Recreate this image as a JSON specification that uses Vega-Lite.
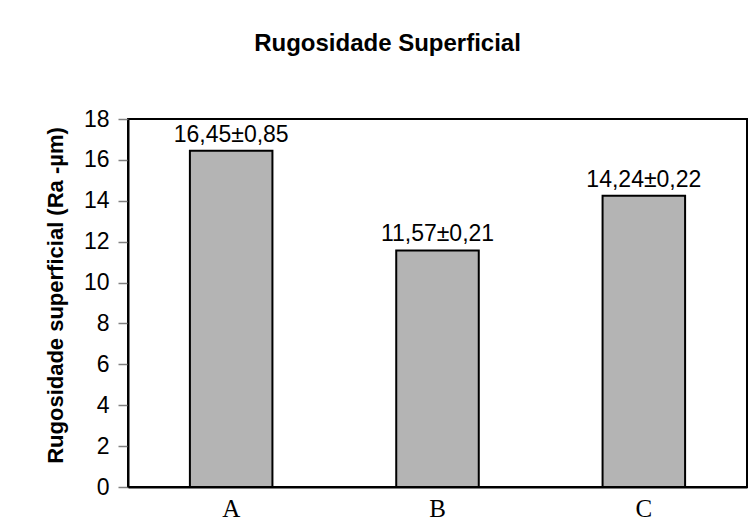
{
  "$schema": "https://vega.github.io/schema/vega-lite/v6.json",
  "width": 619,
  "height": 368,
  "autosize": {"type": "none"},
  "padding": {"left": 128, "top": 119, "right": 5, "bottom": 36},
  "background": "white",
  "title": {
    "text": "Rugosidade Superficial",
    "font": "Liberation Sans",
    "fontSize": 24,
    "fontWeight": "bold",
    "color": "black",
    "anchor": "middle",
    "frame": "group",
    "dx": -50,
    "baseline": "alphabetic",
    "offset": 33
  },
  "data": {
    "values": [
      {"amostra": "A", "ra": 16.45, "rotulo": "16,45±0,85"},
      {"amostra": "B", "ra": 11.57, "rotulo": "11,57±0,21"},
      {"amostra": "C", "ra": 14.24, "rotulo": "14,24±0,22"}
    ]
  },
  "encoding": {
    "x": {
      "field": "amostra",
      "type": "nominal",
      "scale": {"paddingInner": 0.6, "paddingOuter": 0.3},
      "axis": {
        "title": null,
        "labelAngle": 0,
        "labelFont": "Liberation Serif",
        "labelFontSize": 25,
        "labelColor": "black",
        "labelPadding": 9,
        "ticks": false,
        "domain": true,
        "domainColor": "black",
        "domainWidth": 2
      }
    },
    "y": {
      "field": "ra",
      "type": "quantitative",
      "scale": {"domain": [0, 18], "nice": false},
      "axis": {
        "title": "Rugosidade superficial (Ra -µm)",
        "titleFont": "Liberation Sans",
        "titleFontSize": 22,
        "titleFontWeight": "bold",
        "titleColor": "black",
        "titleX": -61,
        "titleY": 176,
        "titleAngle": 270,
        "titleBaseline": "bottom",
        "titleAlign": "center",
        "values": [0, 2, 4, 6, 8, 10, 12, 14, 16, 18],
        "labelFont": "Liberation Sans",
        "labelFontSize": 23,
        "labelColor": "black",
        "labelPadding": 9,
        "tickSize": 10,
        "tickColor": "#808080",
        "tickWidth": 1.5,
        "grid": false,
        "domain": true,
        "domainColor": "black",
        "domainWidth": 2
      }
    }
  },
  "layer": [
    {
      "mark": {"type": "bar", "fill": "#b4b4b4", "stroke": "black", "strokeWidth": 2}
    },
    {
      "mark": {
        "type": "text",
        "baseline": "alphabetic",
        "dy": -9,
        "font": "Liberation Sans",
        "fontSize": 23,
        "color": "black"
      },
      "encoding": {"text": {"field": "rotulo"}}
    }
  ],
  "config": {
    "view": {"stroke": "black", "strokeWidth": 2}
  }
}
